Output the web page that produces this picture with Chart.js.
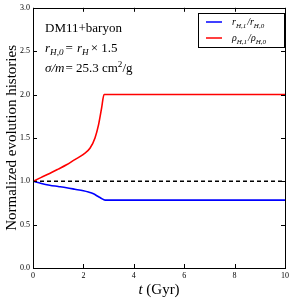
<!DOCTYPE html>
<html><head><meta charset="utf-8">
<script src="https://cdn.jsdelivr.net/npm/chart.js@4"></script>
<style>html,body{margin:0;padding:0;background:#fff}#wrap{width:294px;height:301px}</style>
</head><body><div id="wrap"><canvas id="c" width="294" height="301"></canvas></div>
<script>
const rhoT = [0, 0.33, 0.66, 1.0, 1.33, 1.66, 2.0, 2.26, 2.46, 2.6, 2.72, 2.82, 10];
const rhoV = [1.0, 1.045, 1.09, 1.14, 1.19, 1.25, 1.31, 1.38, 1.50, 1.65, 1.84, 2.0, 2.0];
const rT = [0, 0.33, 0.66, 1.0, 1.33, 1.66, 2.0, 2.2, 2.4, 2.55, 2.7, 2.86, 10];
const rV = [1.0, 0.975, 0.955, 0.94, 0.925, 0.908, 0.89, 0.875, 0.855, 0.83, 0.805, 0.783, 0.783];
const refT = [0, 10];
const refV = [1.0, 1.0];
const xTicks = [0, 2, 4, 6, 8, 10];
const yTicks = [0.0, 0.5, 1.0, 1.5, 2.0, 2.5, 3.0];
const SERIF = '"Liberation Serif", "DejaVu Serif", serif';

function pts(t, v) { return t.map((x, i) => ({x: x, y: v[i]})); }

function drawMath(ctx, x, y, segs, size) {
  let cx = x;
  for (const s of segs) {
    const fs = s.sub || s.sup ? size * 0.7 : size;
    ctx.font = (s.it ? 'italic ' : '') + fs + 'px ' + SERIF;
    const dy = s.sub ? size * 0.25 : (s.sup ? -size * 0.4 : 0);
    ctx.fillText(s.t, cx, y + dy);
    cx += ctx.measureText(s.t).width + (s.sp || 0);
  }
}

const deco = {
  id: 'deco',
  afterDraw(chart) {
    const ctx = chart.ctx, a = chart.chartArea;
    const xs = chart.scales.x, ys = chart.scales.y;
    ctx.save();
    ctx.strokeStyle = '#000'; ctx.lineWidth = 1;
    ctx.strokeRect(Math.round(a.left) + 0.5, Math.round(a.top) + 0.5, Math.round(a.right - a.left), Math.round(a.bottom - a.top));
    ctx.beginPath();
    for (const v of xTicks) {
      const px = Math.round(xs.getPixelForValue(v)) + 0.5;
      ctx.moveTo(px, a.bottom); ctx.lineTo(px, a.bottom - 4);
      ctx.moveTo(px, a.top); ctx.lineTo(px, a.top + 4);
    }
    for (const v of yTicks) {
      const py = Math.round(ys.getPixelForValue(v)) + 0.5;
      ctx.moveTo(a.left, py); ctx.lineTo(a.left + 4, py);
      ctx.moveTo(a.right, py); ctx.lineTo(a.right - 4, py);
    }
    ctx.stroke();
    // annotations
    ctx.fillStyle = '#000'; ctx.textBaseline = 'alphabetic'; ctx.textAlign = 'left';
    ctx.font = '13px ' + SERIF;
    ctx.fillText('DM11+baryon', 45, 32);
    drawMath(ctx, 45, 52, [{t:'r', it:1}, {t:'H,0', it:1, sub:1, sp:2}, {t:'= ', sp:1}, {t:'r', it:1}, {t:'H', it:1, sub:1, sp:2}, {t:'× 1.5'}], 13);
    drawMath(ctx, 45, 72, [{t:'σ/m', it:1, sp:1}, {t:'= 25.3 cm'}, {t:'2', sup:1}, {t:'/g'}], 13);
    // legend
    ctx.strokeStyle = '#000'; ctx.lineWidth = 1;
    ctx.strokeRect(198.5, 13.5, 86, 34);
    const ds = chart.data.datasets;
    const rows = [
      {c: ds[0].borderColor, y: 22, segs: [{t:'r', it:1}, {t:'H,1', it:1, sub:1, sp:1}, {t:'/', it:1}, {t:'r', it:1}, {t:'H,0', it:1, sub:1}]},
      {c: ds[1].borderColor, y: 38, segs: [{t:'ρ', it:1}, {t:'H,1', it:1, sub:1, sp:1}, {t:'/', it:1}, {t:'ρ', it:1}, {t:'H,0', it:1, sub:1}]}
    ];
    for (const r of rows) {
      ctx.strokeStyle = r.c; ctx.lineWidth = 1.5;
      ctx.beginPath(); ctx.moveTo(206, r.y); ctx.lineTo(222, r.y); ctx.stroke();
      ctx.fillStyle = '#000';
      drawMath(ctx, 232, r.y + 3, r.segs, 10);
    }
    // x title
    ctx.fillStyle = '#000';
    ctx.font = 'italic 15px ' + SERIF;
    const w1 = ctx.measureText('t').width;
    ctx.font = '15px ' + SERIF;
    const w2 = ctx.measureText(' (Gyr)').width;
    const cx = (a.left + a.right) / 2 - (w1 + w2) / 2;
    drawMath(ctx, cx, 294, [{t:'t', it:1}, {t:' (Gyr)'}], 15);
    ctx.restore();
  }
};

new Chart(document.getElementById('c'), {
  type: 'line',
  data: {
    datasets: [
      {label: 'r_H,1/r_H,0', data: pts(rT, rV), borderColor: '#0000ff', borderWidth: 1.6, pointRadius: 0, cubicInterpolationMode: 'monotone', fill: false},
      {label: 'ρ_H,1/ρ_H,0', data: pts(rhoT, rhoV), borderColor: '#ff0000', borderWidth: 1.6, pointRadius: 0, cubicInterpolationMode: 'monotone', fill: false},
      {label: 'ref', data: pts(refT, refV), borderColor: '#000000', borderWidth: 1.3, borderDash: [4, 3], pointRadius: 0, fill: false}
    ]
  },
  options: {
    responsive: false, animation: false, devicePixelRatio: 1,
    layout: {padding: {top: 5, right: 9, left: 0, bottom: 0}},
    plugins: {legend: {display: false}, tooltip: {enabled: false}},
    scales: {
      x: {
        type: 'linear', min: 0, max: 10,
        afterBuildTicks(s) { s.ticks = xTicks.map(v => ({value: v})); },
        afterFit(s) { s.height = 33; },
        grid: {display: false, drawTicks: false},
        border: {display: false},
        ticks: {padding: 3, color: '#000', font: {family: SERIF, size: 8}, maxRotation: 0, callback: v => String(v)}
      },
      y: {
        type: 'linear', min: 0, max: 3,
        afterBuildTicks(s) { s.ticks = yTicks.map(v => ({value: v})); },
        afterFit(s) { s.width = 33; },
        grid: {display: false, drawTicks: false},
        border: {display: false},
        title: {display: true, text: 'Normalized evolution histories', color: '#000', font: {family: SERIF, size: 15}, padding: {top: 3, bottom: 0}},
        ticks: {padding: 3, color: '#000', font: {family: SERIF, size: 8}, callback: v => v.toFixed(1)}
      }
    }
  },
  plugins: [deco]
});
</script></body></html>
